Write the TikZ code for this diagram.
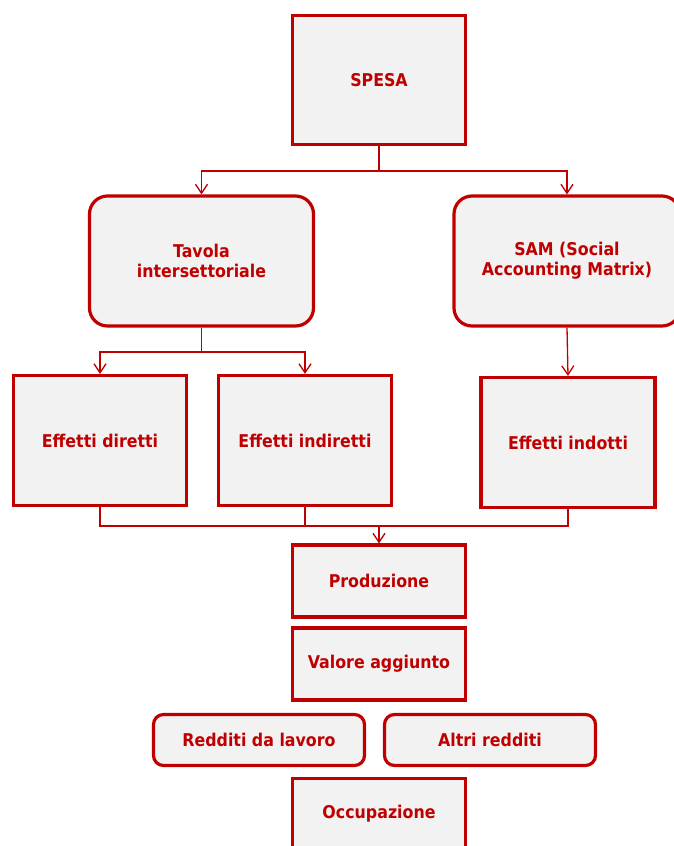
\documentclass[tikz,border=0pt]{standalone}
\usepackage{fontspec}
\setsansfont{DejaVu Sans Condensed}
\usetikzlibrary{arrows.meta}
\definecolor{spred}{HTML}{C00000}
\definecolor{spgray}{HTML}{F2F2F2}
\tikzset{
  box/.style={draw=spred, fill=spgray, line width=3.2pt, text=spred, align=center,
    inner sep=0pt, font=\sffamily\bfseries\fontsize{17.6}{20}\selectfont},
  rbox/.style={box, rounded corners=18pt},
  pill/.style={box, rounded corners=10pt},
  link/.style={draw=spred, line width=1.3pt},
  arrowlink/.style={link, -{Straight Barb[length=9pt,width=12pt,line width=1.3pt]}}
}
\begin{document}
\begin{tikzpicture}[x=1pt,y=1pt]
\useasboundingbox (0,0) rectangle (674,-846);
% top box
\node[box, minimum width=173, minimum height=129] (spesa) at (379,-80) {SPESA};
% models
\node[rbox, minimum width=224, minimum height=130] (tavola) at (201.5,-261) {Tavola\\intersettoriale};
\node[rbox, minimum width=226, minimum height=130] (sam) at (567,-261) {SAM (Social\\Accounting Matrix)};
% effects
\node[box, minimum width=173, minimum height=130] (diretti) at (100,-440.5) {Effetti diretti};
\node[box, minimum width=173, minimum height=130] (indiretti) at (305,-440.5) {Effetti indiretti};
\node[box, minimum width=174, minimum height=130] (indotti) at (568,-442.5) {Effetti indotti};
% results
\node[box, minimum width=173, minimum height=72] (produzione) at (379,-581) {Produzione};
\node[box, minimum width=173, minimum height=72] (valore) at (379,-664) {Valore aggiunto};
\node[pill, minimum width=211, minimum height=51] (redditi) at (259,-740) {Redditi da lavoro};
\node[pill, minimum width=211, minimum height=51] (altri) at (490,-740) {Altri redditi};
\node[box, minimum width=173, minimum height=71] (occupazione) at (379,-814) {Occupazione};
% connectors
\coordinate (split1) at (379,-171);
\coordinate (split2) at (201.5,-352);
\coordinate (merge) at (379,-526);
\draw[arrowlink] (spesa.south) -- (split1) -| (tavola.north);
\draw[arrowlink] (split1) -| (sam.north);
\draw[arrowlink] (tavola.south) -- (split2) -| (diretti.north);
\draw[arrowlink] (split2) -| (indiretti.north);
\draw[arrowlink] (sam.south) -- (indotti.north);
\draw[link] (diretti.south) |- (merge);
\draw[link] (indiretti.south) |- (merge);
\draw[link] (indotti.south) |- (merge);
\draw[arrowlink] (merge) -- (produzione.north);
\end{tikzpicture}
\end{document}
